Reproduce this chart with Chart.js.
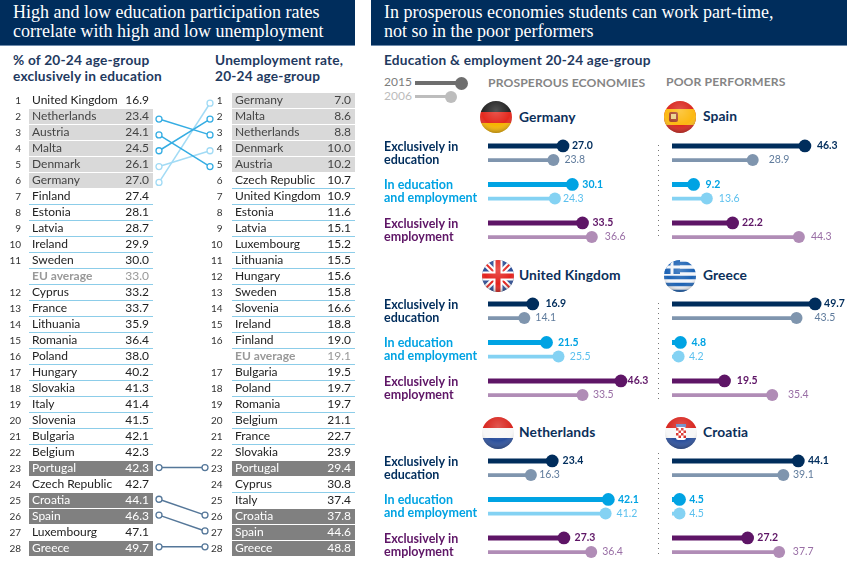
<!DOCTYPE html>
<html>
<head>
<meta charset="utf-8">
<title>Education and unemployment</title>
<script src="https://cdn.jsdelivr.net/npm/chart.js@4"></script>
<style>
  html, body { margin: 0; padding: 0; background: #fff; }
  #page { position: relative; width: 847px; height: 567px; overflow: hidden; font-family: Lato, sans-serif; }
  #page > * { position: absolute; }
  .banner { top: 0; height: 45px; background: #002d5c; color: #fff; font: 18px/19px "Liberation Serif", serif; border-bottom: 1px solid #6f8bab; box-sizing: content-box; }
  .banner span { position: absolute; left: 13px; top: 3px; white-space: nowrap; }
  .head { font: 700 13.7px/16px Lato, sans-serif; color: #1f3a5f; white-space: nowrap; letter-spacing: .2px; }
  .group { font: 700 12.2px/14px Lato, sans-serif; color: #858585; white-space: nowrap; letter-spacing: .1px; }
  .country { font: 700 13.8px/18px Lato, sans-serif; color: #0c2f5a; white-space: nowrap; letter-spacing: .1px; }
  .year { font: 400 12px/14px Lato, sans-serif; white-space: nowrap; }
  .stick { height: 4px; }
  .knob { border-radius: 50%; }
  .dots { left: 658px; width: 1px; background: repeating-linear-gradient(#777 0 1px, transparent 1px 5px); }
  svg.flag { width: 32px; height: 32px; overflow: visible; }
</style>
</head>
<body>
<div id="page">
  <div class="banner" style="left:0;width:355px"><span>High and low education participation rates<br>correlate with high and low unemployment</span></div>
  <div class="banner" style="left:371px;width:476px"><span>In prosperous economies students can work part-time,<br>not so in the poor performers</span></div>

  <div class="head" style="left:13px;top:52px">% of 20-24 age-group<br>exclusively in education</div>
  <div class="head" style="left:215px;top:52px">Unemployment rate,<br>20-24 age-group</div>
  <div class="head" style="left:384px;top:52px">Education &amp; employment 20-24 age-group</div>

  <div class="year" style="left:384px;top:75px;color:#7d7d7d">2015</div>
  <div class="stick" style="left:415px;top:81px;width:46px;background:#6e6e6e"></div>
  <div class="knob" style="left:455px;top:77px;width:13px;height:13px;background:#6e6e6e"></div>
  <div class="year" style="left:384px;top:89px;color:#bcbcbc">2006</div>
  <div class="stick" style="left:415px;top:95px;width:36px;height:3px;background:#bdbdbd"></div>
  <div class="knob" style="left:445px;top:91px;width:12px;height:12px;background:#bdbdbd"></div>
  <div class="group" style="left:488px;top:76px">PROSPEROUS ECONOMIES</div>
  <div class="group" style="left:666px;top:75px">POOR PERFORMERS</div>

  <canvas id="tableEdu" width="160" height="470" style="left:0;top:90px"></canvas>
  <canvas id="tableUnemp" width="223" height="470" style="left:132px;top:90px"></canvas>
  <canvas id="linksTop" width="70" height="470" style="left:150px;top:90px"></canvas>
  <canvas id="linksBottom" width="70" height="470" style="left:150px;top:90px"></canvas>

  <div class="dots" style="top:145px;height:93px"></div>
  <div class="dots" style="top:303px;height:97px"></div>
  <div class="dots" style="top:453px;height:105px"></div>

  <svg class="flag" viewBox="-16 -16 32 32" style="left:480px;top:101px"><use href="#flagDe"/><use href="#shine"/></svg>
  <svg class="flag" viewBox="-16 -16 32 32" style="left:482px;top:260px"><use href="#flagUk"/><use href="#shine"/></svg>
  <svg class="flag" viewBox="-16 -16 32 32" style="left:482px;top:417px"><use href="#flagNl"/><use href="#shine"/></svg>
  <svg class="flag" viewBox="-16 -16 32 32" style="left:664px;top:101px"><use href="#flagEs"/><use href="#shine"/></svg>
  <svg class="flag" viewBox="-16 -16 32 32" style="left:664px;top:260px"><use href="#flagGr"/><use href="#shine"/></svg>
  <svg class="flag" viewBox="-16 -16 32 32" style="left:665px;top:417px"><use href="#flagHr"/><use href="#shine"/></svg>

  <div class="country" style="left:519px;top:108px">Germany</div>
  <div class="country" style="left:519px;top:266px">United Kingdom</div>
  <div class="country" style="left:519px;top:423px">Netherlands</div>
  <div class="country" style="left:703px;top:107px">Spain</div>
  <div class="country" style="left:703px;top:266px">Greece</div>
  <div class="country" style="left:703px;top:423px">Croatia</div>

  <canvas id="germany" width="271" height="122" style="left:384px;top:130px"></canvas>
  <canvas id="uk" width="271" height="122" style="left:384px;top:288px"></canvas>
  <canvas id="netherlands" width="271" height="122" style="left:384px;top:445px"></canvas>
  <canvas id="spain" width="187" height="122" style="left:660px;top:130px"></canvas>
  <canvas id="greece" width="187" height="122" style="left:660px;top:288px"></canvas>
  <canvas id="croatia" width="187" height="122" style="left:660px;top:445px"></canvas>

  <svg width="0" height="0" style="left:0;top:0">
    <defs>
      <clipPath id="disc"><circle r="16"/></clipPath>
      <radialGradient id="sheen" cx=".5" cy=".3" r=".75">
        <stop offset="0" stop-color="#fff" stop-opacity=".22"/>
        <stop offset=".6" stop-color="#fff" stop-opacity="0"/>
        <stop offset="1" stop-color="#000" stop-opacity=".4"/>
      </radialGradient>
      <g id="shine"><circle r="16" fill="url(#sheen)"/></g>
      <g id="flagDe" clip-path="url(#disc)">
        <rect x="-16" y="-16" width="32" height="11" fill="#222"/>
        <rect x="-16" y="-5" width="32" height="11" fill="#e3291e"/>
        <rect x="-16" y="6" width="32" height="10" fill="#f6b400"/>
      </g>
      <g id="flagNl" clip-path="url(#disc)">
        <rect x="-16" y="-16" width="32" height="11" fill="#d8261f"/>
        <rect x="-16" y="-5" width="32" height="10" fill="#f7f7f7"/>
        <rect x="-16" y="5" width="32" height="11" fill="#2a4f9c"/>
      </g>
      <g id="flagUk" clip-path="url(#disc)">
        <rect x="-16" y="-16" width="32" height="32" fill="#2b4c95"/>
        <path d="M-16-16L16 16M16-16L-16 16" stroke="#fff" stroke-width="6"/>
        <path d="M-16-16L16 16M16-16L-16 16" stroke="#e3241f" stroke-width="2"/>
        <path d="M0-16V16M-16 0H16" stroke="#fff" stroke-width="9"/>
        <path d="M0-16V16M-16 0H16" stroke="#e3241f" stroke-width="5"/>
      </g>
      <g id="flagEs" clip-path="url(#disc)">
        <rect x="-16" y="-16" width="32" height="32" fill="#d9251c"/>
        <rect x="-16" y="-8" width="32" height="16" fill="#fcb912"/>
        <rect x="-11" y="-5" width="9" height="10" rx="2" fill="#a8452e"/>
        <rect x="-9" y="-3" width="5" height="5" fill="#e9d28a"/>
      </g>
      <g id="flagGr" clip-path="url(#disc)">
        <rect x="-16" y="-16" width="32" height="32" fill="#f4f6fa"/>
        <path d="M-16-12.5H16M-16-5.5H16M-16 1.5H16M-16 8.5H16M-16 15.5H16" stroke="#1c62b4" stroke-width="3.5"/>
        <rect x="-16" y="-16" width="16" height="14" fill="#1c62b4"/>
        <path d="M-8-16V-2M-16-9H0" stroke="#f4f6fa" stroke-width="3"/>
      </g>
      <g id="flagHr" clip-path="url(#disc)">
        <rect x="-16" y="-16" width="32" height="11" fill="#d8261f"/>
        <rect x="-16" y="-5" width="32" height="10" fill="#f7f7f7"/>
        <rect x="-16" y="5" width="32" height="11" fill="#2a4f9c"/>
        <rect x="-5" y="-9" width="10" height="3" fill="#5b7fc0"/>
        <rect x="-5" y="-6" width="10" height="13" rx="2" fill="#fff"/>
        <path d="M-5-5H-2.5V-2.5H-5ZM0-5H2.5V-2.5H0ZM-2.5-2.5H0V0H-2.5ZM2.5-2.5H5V0H2.5ZM-5 0H-2.5V2.5H-5ZM0 0H2.5V2.5H0ZM-2.5 2.5H0V5H-2.5ZM2.5 2.5H5V5H2.5Z" fill="#d8261f"/>
      </g>
    </defs>
  </svg>
</div>

<script>
// left table, ordered by share in education
const eduCountries = ["United Kingdom", "Netherlands", "Austria", "Malta", "Denmark", "Germany", "Finland", "Estonia", "Latvia", "Ireland", "Sweden", "EU average", "Cyprus", "France", "Lithuania", "Romania", "Poland", "Hungary", "Slovakia", "Italy", "Slovenia", "Bulgaria", "Belgium", "Portugal", "Czech Republic", "Croatia", "Spain", "Luxembourg", "Greece"];
const eduValues = [16.9, 23.4, 24.1, 24.5, 26.1, 27.0, 27.4, 28.1, 28.7, 29.9, 30.0, 33.0, 33.2, 33.7, 35.9, 36.4, 38.0, 40.2, 41.3, 41.4, 41.5, 42.1, 42.3, 42.3, 42.7, 44.1, 46.3, 47.1, 49.7];

// right table, ordered by unemployment
const unempCountries = ["Germany", "Malta", "Netherlands", "Denmark", "Austria", "Czech Republic", "United Kingdom", "Estonia", "Latvia", "Luxembourg", "Lithuania", "Hungary", "Sweden", "Slovenia", "Ireland", "Finland", "EU average", "Bulgaria", "Poland", "Romania", "Belgium", "France", "Slovakia", "Portugal", "Cyprus", "Italy", "Croatia", "Spain", "Greece"];
const unempValues = [7.0, 8.6, 8.8, 10.0, 10.2, 10.7, 10.9, 11.6, 15.1, 15.2, 15.5, 15.6, 15.8, 16.6, 18.8, 19.0, 19.1, 19.5, 19.7, 19.7, 21.1, 22.7, 23.9, 29.4, 30.8, 37.4, 37.8, 44.6, 48.8];

const lowGroup = ["Netherlands", "Austria", "Malta", "Denmark", "Germany"];
const lowGroupFaint = ["Denmark", "Germany"];
const highGroup = ["Portugal", "Croatia", "Spain", "Greece"];

const measures = [["Exclusively in", "education"], ["In education", "and employment"], ["Exclusively in", "employment"]];
const germany2015 = [27.0, 30.1, 33.5], germany2006 = [23.8, 24.3, 36.6];
const uk2015 = [16.9, 21.5, 46.3], uk2006 = [14.1, 25.5, 33.5];
const netherlands2015 = [23.4, 42.1, 27.3], netherlands2006 = [16.3, 41.2, 36.4];
const spain2015 = [46.3, 9.2, 22.2], spain2006 = [28.9, 13.6, 44.3];
const greece2015 = [49.7, 4.8, 19.5], greece2006 = [43.5, 4.2, 35.4];
const croatia2015 = [44.1, 4.5, 27.2], croatia2006 = [39.1, 4.5, 37.7];

const FONT = "Lato, sans-serif";
const strong = ["#002d5c", "#00a3e3", "#5e1566"];
const soft = ["#7f95ae", "#84d2f3", "#b08cb6"];
const softText = ["#5f7b9c", "#5cc0ee", "#996ea5"];

Chart.defaults.animation = false;
Chart.defaults.responsive = false;
Chart.defaults.plugins.legend.display = false;
Chart.defaults.plugins.tooltip.enabled = false;

// axis keeps the given width and does not push the chart area around
function fixAxis(width) {
  return (s) => {
    s.width = width;
    s.paddingTop = s.paddingBottom = s.paddingLeft = s.paddingRight = 0;
  };
}

function rankLabels(names) {
  let n = 0;
  return names.map((c) => (c === "EU average" ? "" : String(++n)));
}

function makeTable(id, names, values, paddingLeft, paddingRight, rankGap) {
  const kind = names.map((c) => (highGroup.includes(c) ? "high" : lowGroup.includes(c) ? "low" : c === "EU average" ? "eu" : "plain"));
  const isBand = (i) => kind[i] === "high" || kind[i] === "low";
  const textColor = (ctx) => ({ high: "#fff", low: "#444", eu: "#999", plain: "#222" })[kind[ctx.index]];
  const nameFont = (ctx) => ({ family: FONT, size: 12, weight: kind[ctx.index] === "eu" ? "700" : "400" });
  new Chart(document.getElementById(id), {
    type: "bar",
    data: {
      labels: names,
      datasets: [{
        data: kind.map((k, i) => (isBand(i) ? 1 : 0)),
        yAxisID: "names",
        categoryPercentage: 1,
        barPercentage: 0.94,
        backgroundColor: kind.map((k) => (k === "high" ? "#808080" : "#d9d9d9")),
      }],
    },
    options: {
      indexAxis: "y",
      layout: { padding: { top: 2.5, bottom: 3.5, left: paddingLeft, right: paddingRight } },
      scales: {
        x: { type: "linear", min: 0, max: 1, display: false },
        ranks: {
          type: "category", labels: rankLabels(names), position: "left", offset: true, weight: 2,
          afterFit: fixAxis(29),
          grid: { display: false, drawTicks: false }, border: { display: false },
          ticks: { autoSkip: false, padding: rankGap, color: "#333", font: { family: FONT, size: 10 } },
        },
        names: {
          type: "category", position: "left", offset: true, weight: 1,
          afterFit: fixAxis(0),
          grid: {
            offset: true, drawTicks: false,
            color: (ctx) => {
              const i = ctx.index;
              if (i === undefined || i === 0) return "rgba(0,0,0,0)";
              return isBand(i) || isBand(i - 1) ? "rgba(0,0,0,0)" : "#8ccde9";
            },
          },
          border: { display: false },
          ticks: { autoSkip: false, mirror: true, z: 1, padding: 3, color: textColor, font: nameFont },
        },
        amounts: {
          type: "category", labels: values.map((v) => v.toFixed(1)), position: "right", offset: true,
          afterFit: fixAxis(0),
          grid: { display: false }, border: { display: false },
          ticks: { autoSkip: false, mirror: true, z: 1, padding: -4, color: textColor, font: { family: FONT, size: 12 } },
        },
      },
    },
  });
}

makeTable("tableEdu", eduCountries, eduValues, 0, 7, 8);
makeTable("tableUnemp", unempCountries, unempValues, 71, 0, 9.5);

function makeLinks(id, linked, paddingRight) {
  const datasets = linked.map((c) => {
    const faint = lowGroupFaint.includes(c);
    const color = highGroup.includes(c) ? "#557799" : faint ? "#a2dbf5" : "#35ade3";
    return {
      data: [eduCountries.indexOf(c), unempCountries.indexOf(c)],
      borderColor: color, pointBorderColor: color,
      borderWidth: 1.5, pointBorderWidth: 1.3, pointRadius: 3,
      pointBackgroundColor: "#fff",
    };
  });
  new Chart(document.getElementById(id), {
    type: "line",
    data: { labels: ["education", "unemployment"], datasets },
    options: {
      layout: { padding: { top: 2.5, bottom: 3.5, left: 9, right: paddingRight } },
      scales: {
        x: { display: false },
        y: { display: false, reverse: true, min: -0.5, max: 28.5 },
      },
    },
  });
}

makeLinks("linksTop", lowGroup, 10);
makeLinks("linksBottom", highGroup, 15);

// round end of every bar and the value beside it
const lollipop = {
  id: "lollipop",
  afterDatasetsDraw(chart, args, opts) {
    const ctx = chart.ctx;
    chart.data.datasets.forEach((ds, d) => {
      chart.getDatasetMeta(d).data.forEach((bar, i) => {
        ctx.beginPath();
        ctx.arc(bar.x, bar.y, d === 0 ? 6.4 : 6, 0, Math.PI * 2);
        ctx.fillStyle = ds.backgroundColor[i];
        ctx.fill();
        ctx.fillStyle = d === 0 ? strong[i] : softText[i];
        ctx.font = (d === 0 ? "700 " : "400 ") + "10.5px " + FONT;
        ctx.textAlign = "left";
        ctx.textBaseline = "middle";
        ctx.fillText(ds.data[i].toFixed(1), bar.x + opts.gaps[i * 2 + d], bar.y);
      });
    });
  },
};

function makePanel(id, recent, older, gaps, withLabels) {
  const y = withLabels
    ? {
        afterFit: fixAxis(98),
        grid: { display: false }, border: { display: false },
        ticks: {
          autoSkip: false, crossAlign: "far", padding: 0,
          color: (c) => strong[c.index],
          font: { family: FONT, size: 12.5, weight: "700", lineHeight: 1.04 },
        },
      }
    : { display: false };
  new Chart(document.getElementById(id), {
    type: "bar",
    plugins: [lollipop],
    data: {
      labels: measures,
      datasets: [
        { label: "2015", data: recent, backgroundColor: strong, base: 2, categoryPercentage: 0.73, barPercentage: 0.36 },
        { label: "2006", data: older, backgroundColor: soft, base: 2, categoryPercentage: 0.73, barPercentage: 0.27 },
      ],
    },
    options: {
      indexAxis: "y",
      layout: { padding: { top: 3.75, bottom: 2.75, left: withLabels ? 0 : 6, right: withLabels ? 8 : 16 } },
      plugins: { lollipop: { gaps } },
      scales: { x: { min: 0, max: 55, display: false }, y },
    },
  });
}

makePanel("germany", germany2015, germany2006, [9, 11, 10, 8, 10, 13], true);
makePanel("uk", uk2015, uk2006, [12.7, 11, 11.4, 11.3, 6.7, 10.4], true);
makePanel("netherlands", netherlands2015, netherlands2006, [10.4, 8.3, 9.7, 11, 10.7, 11], true);
makePanel("spain", spain2015, spain2006, [12, 16, 12, 12, 9.4, 12], false);
makePanel("greece", greece2015, greece2006, [9, 18, 11, 10.4, 12.3, 15.7], false);
makePanel("croatia", croatia2015, croatia2006, [9.7, 9.7, 9.7, 9.7, 9.7, 13.7], false);
</script>
</body>
</html>
